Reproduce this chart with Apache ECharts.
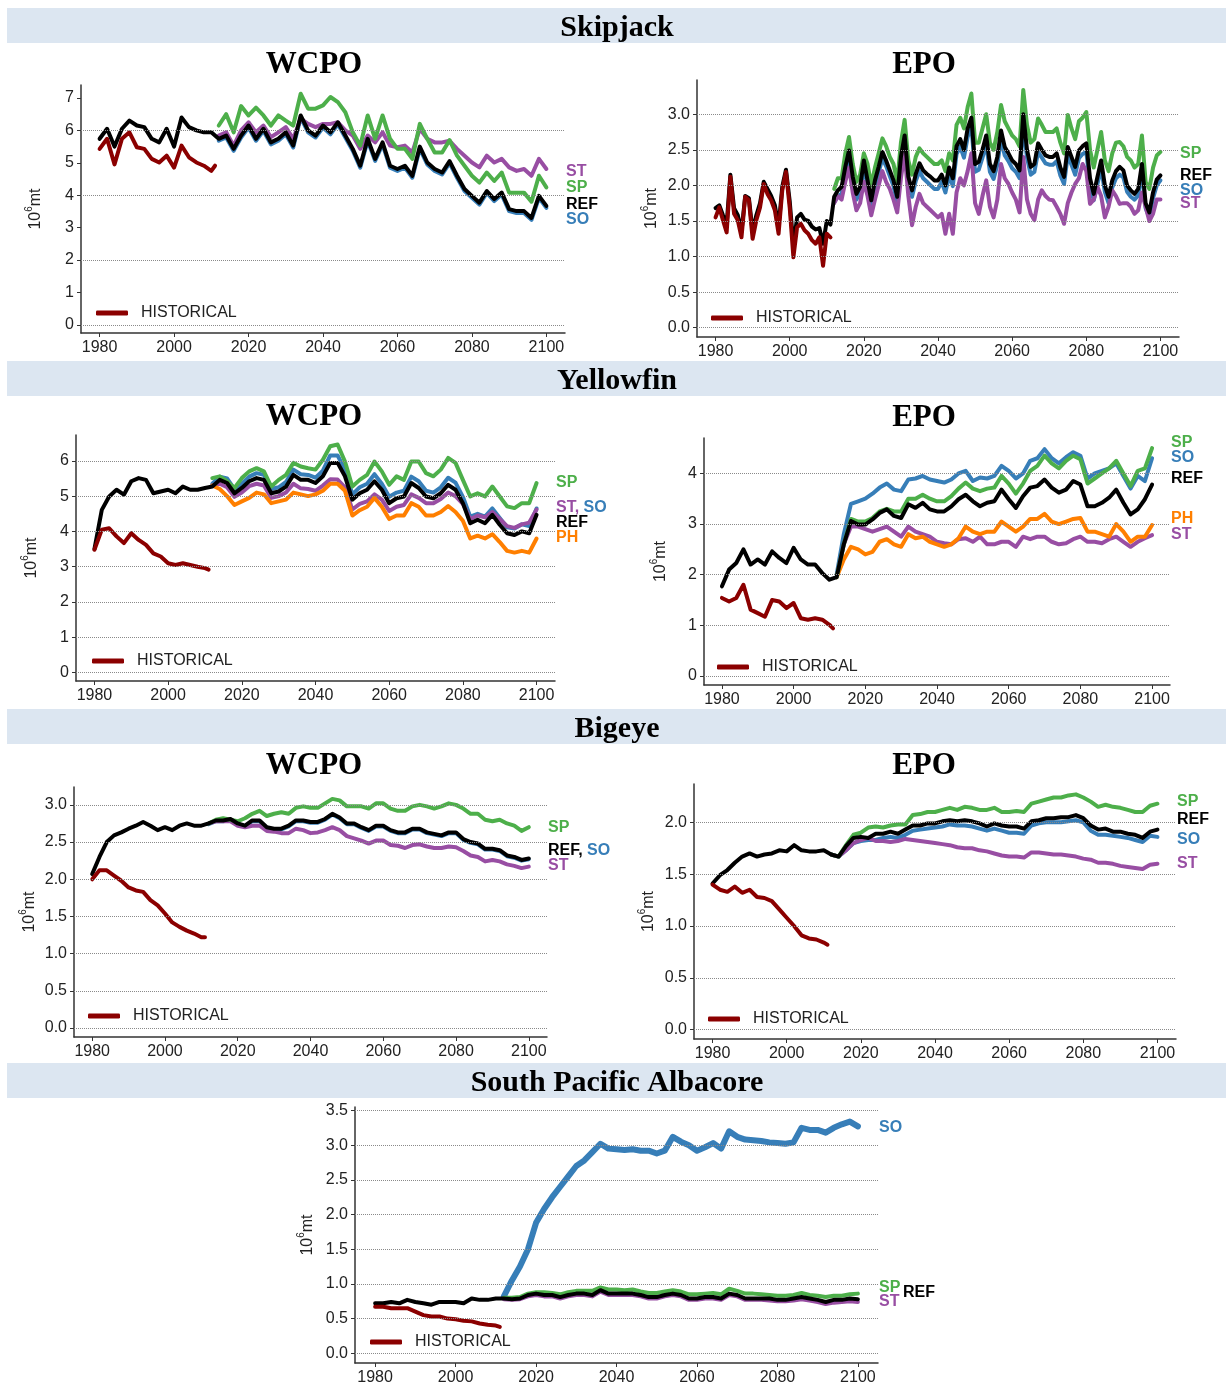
<!DOCTYPE html>
<html><head><meta charset="utf-8">
<script src="https://cdn.jsdelivr.net/npm/echarts@6.0.0/dist/echarts.min.js"></script>
<style>html,body{margin:0;padding:0;background:#fff}#c{width:1226px;height:1387px}</style>
</head><body><div id="c"></div>
<script>
// ---------- year axes ----------
const YRS2 = []; for (let y = 1980; y <= 2100; y += 2) YRS2.push(y);
const YRS2_HIST = YRS2.slice(0, 16).concat([2011]);
const YRS2_PROJ = YRS2.slice(16);
const YRS1 = []; for (let y = 1980; y <= 2100; y++) YRS1.push(y);
const YRS1_HIST = YRS1.slice(0, 32);
const YRS1_PROJ = YRS1.slice(32);
const X_TICKS = [1980, 2000, 2020, 2040, 2060, 2080, 2100];

// ---------- Skipjack WCPO ----------
const skjW_REF = [5.74,6.05,5.5,6.05,6.3,6.15,6.1,5.74,5.63,6.05,5.5,6.4,6.1,6.0,5.94,5.94,
  5.74,5.84,5.43,5.84,6.15,5.74,6.05,5.63,5.74,5.94,5.53,6.46,6.0,5.84,6.15,5.94,6.25,5.84,5.43,4.91,
  5.74,5.12,5.63,4.91,4.81,4.91,4.6,5.5,5.01,4.81,4.7,5.05,4.6,4.19,3.98,3.77,4.13,3.88,4.08,3.57,
  3.51,3.51,3.3,3.98,3.67];
const skjW_HIST = [5.43,5.74,4.95,5.74,5.94,5.48,5.43,5.12,5.01,5.22,4.85,5.53,5.17,5.01,4.91,4.75,4.91];
const skjW_SP = [6.15,6.5,5.94,6.75,6.46,6.7,6.46,6.15,6.46,6.3,6.15,7.13,6.67,6.67,6.77,7.03,6.87,6.56,
  5.94,5.53,6.46,5.74,6.46,5.74,5.43,5.43,5.12,6.2,5.74,5.32,5.32,5.7,5.22,4.91,4.6,4.39,4.7,4.44,4.7,
  4.08,4.08,4.08,3.8,4.6,4.24];
const skjW_ST = [5.84,5.94,5.53,6.0,6.25,5.94,6.15,5.79,5.94,6.1,5.74,6.36,6.2,6.1,6.2,6.2,6.25,6.0,
  5.84,5.43,5.84,5.63,5.94,5.53,5.48,5.53,5.32,6.05,5.74,5.63,5.63,5.68,5.43,5.22,5.01,4.86,5.22,5.01,
  5.12,4.86,4.75,4.81,4.6,5.12,4.81];
const skjW_SO = [5.68,5.78,5.37,5.78,6.09,5.68,5.99,5.57,5.68,5.88,5.47,6.4,5.94,5.78,6.09,5.88,6.19,5.78,
  5.37,4.85,5.68,5.06,5.57,4.85,4.75,4.85,4.54,5.44,4.95,4.75,4.64,4.99,4.54,4.13,3.92,3.71,4.07,3.82,
  4.02,3.51,3.45,3.45,3.24,3.92,3.61];

// ---------- Skipjack EPO (yearly) ----------
const skjE_REF = [1.68,1.72,1.58,1.45,2.15,1.68,1.58,1.35,1.85,1.82,1.35,1.58,1.75,2.05,1.95,1.85,1.72,1.42,
  1.98,2.22,1.78,1.15,1.55,1.6,1.52,1.5,1.42,1.38,1.4,1.18,1.5,1.45,
  1.84,1.93,1.98,2.26,2.49,2.12,1.88,1.98,2.35,2.07,1.79,2.07,2.26,2.47,2.35,2.21,2.07,1.84,2.4,2.70,2.12,
  1.93,2.16,2.31,2.21,2.16,2.12,2.07,2.07,
  2.15,2.0,2.25,2.1,2.55,2.65,2.5,2.8,2.95,2.3,2.33,2.5,2.7,2.3,2.2,2.4,2.77,2.54,2.45,2.35,2.3,2.21,3.0,
  2.5,2.26,2.3,2.59,2.5,2.42,2.4,2.4,2.45,2.25,2.12,2.54,2.4,2.26,2.49,2.55,2.59,2.1,1.88,2.12,2.35,2.0,
  1.84,2.07,2.2,2.26,2.21,2.0,1.93,1.88,1.95,2.3,1.75,1.62,1.9,2.08,2.14];
const skjE_HIST = [1.55,1.69,1.51,1.34,2.12,1.60,1.51,1.27,1.84,1.79,1.25,1.51,1.69,2.02,1.88,1.79,1.65,
  1.32,1.93,2.19,1.69,0.99,1.41,1.46,1.37,1.32,1.23,1.18,1.27,0.87,1.32,1.27];
const skjE_SP = [1.95,2.1,2.1,2.45,2.68,2.3,2.05,2.15,2.45,2.3,2.0,2.25,2.45,2.66,2.55,2.4,2.3,2.05,2.6,
  2.92,2.35,2.15,2.4,2.52,2.45,2.4,2.35,2.3,2.3,
  2.35,2.2,2.45,2.35,2.85,2.95,2.8,3.1,3.29,2.6,2.6,2.8,3.0,2.6,2.5,2.75,3.13,2.9,2.8,2.7,2.65,2.55,3.34,
  2.85,2.6,2.65,2.94,2.85,2.75,2.75,2.75,2.8,2.6,2.45,2.99,2.8,2.65,2.9,2.95,3.03,2.5,2.25,2.5,2.75,2.35,
  2.2,2.45,2.6,2.61,2.55,2.4,2.35,2.25,2.3,2.7,2.05,1.95,2.25,2.42,2.47];
const skjE_ST = [1.75,1.85,1.8,2.05,2.25,1.9,1.65,1.75,2.05,1.85,1.58,1.8,2.0,2.2,2.05,1.95,1.8,1.62,2.1,
  2.45,1.85,1.44,1.7,1.88,1.75,1.7,1.65,1.6,1.55,
  1.6,1.32,1.6,1.32,1.9,2.1,2.0,2.2,2.45,1.75,1.6,1.85,2.07,1.7,1.55,1.8,2.3,2.1,2.02,1.9,1.8,1.62,2.4,
  1.8,1.6,1.51,1.8,1.93,1.85,1.8,1.79,1.7,1.6,1.46,1.75,1.9,2.02,2.1,2.3,2.2,1.74,1.8,1.98,1.85,1.55,
  1.7,1.93,1.85,1.74,1.75,1.75,1.7,1.6,1.65,1.9,1.7,1.5,1.6,1.8,1.8];
const skjE_SO = [1.76,1.85,1.88,2.18,2.4,2.04,1.8,1.9,2.27,1.99,1.71,1.99,2.18,2.38,2.27,2.13,1.99,1.76,
  2.32,2.6,2.03,1.84,2.06,2.2,2.1,2.05,2.0,1.95,1.95,
  2.05,1.9,2.14,1.99,2.44,2.54,2.39,2.68,2.83,2.19,2.22,2.39,2.58,2.19,2.09,2.29,2.65,2.42,2.34,2.24,
  2.19,2.1,2.87,2.39,2.15,2.19,2.47,2.39,2.31,2.29,2.29,2.34,2.14,2.02,2.42,2.29,2.15,2.38,2.44,2.47,
  2.0,1.79,2.02,2.24,1.91,1.75,1.97,2.1,2.15,2.11,1.91,1.84,1.8,1.86,2.2,1.68,1.55,1.82,2.0,2.07];

// ---------- Yellowfin WCPO ----------
const yfW_REF = [3.5,4.61,4.99,5.18,5.04,5.42,5.51,5.46,5.08,5.13,5.18,5.08,5.27,5.18,5.18,5.23,
  5.27,5.46,5.37,5.08,5.23,5.42,5.51,5.46,5.08,5.13,5.27,5.6,5.46,5.46,5.37,5.56,5.94,5.94,5.56,4.9,
  5.08,5.18,5.42,5.18,4.8,4.94,4.99,5.37,5.23,4.99,4.94,5.08,5.32,5.18,4.8,4.23,4.33,4.23,4.47,4.19,
  3.95,3.9,4.0,3.95,4.47];
const yfW_HIST = [3.48,4.05,4.09,3.86,3.67,3.95,3.76,3.62,3.38,3.29,3.1,3.05,3.1,3.05,3.0,2.96,2.92];
const yfW_SP = [5.51,5.56,5.42,5.23,5.51,5.7,5.79,5.7,5.27,5.46,5.6,5.94,5.84,5.79,5.75,6.03,6.41,6.46,
  5.98,5.27,5.46,5.6,5.98,5.7,5.32,5.56,5.46,5.98,5.98,5.65,5.56,5.75,6.08,5.94,5.46,4.99,5.08,4.99,
  5.27,4.99,4.71,4.66,4.8,4.8,5.37];
const yfW_SO = [5.35,5.55,5.5,5.2,5.35,5.55,5.65,5.6,5.2,5.25,5.4,5.75,5.62,5.6,5.52,5.72,6.15,6.15,5.75,
  5.05,5.25,5.35,5.62,5.35,4.98,5.1,5.15,5.55,5.42,5.15,5.1,5.25,5.52,5.38,4.98,4.42,4.5,4.42,4.65,
  4.38,4.12,4.08,4.2,4.15,4.65];
const yfW_ST = [5.3,5.35,5.25,4.98,5.1,5.28,5.35,5.3,4.95,5.0,5.1,5.35,5.22,5.2,5.15,5.3,5.48,5.47,5.25,
  4.62,4.78,4.85,5.05,4.9,4.58,4.7,4.75,5.05,4.95,4.8,4.8,4.92,5.1,5.0,4.78,4.35,4.45,4.4,4.55,4.35,
  4.15,4.1,4.2,4.25,4.62];
const yfW_PH = [5.3,5.2,5.0,4.75,4.85,4.95,5.1,5.05,4.8,4.85,4.9,5.1,5.05,5.0,5.05,5.15,5.35,5.35,5.15,
  4.45,4.6,4.7,4.95,4.7,4.35,4.45,4.45,4.8,4.7,4.45,4.45,4.55,4.72,4.55,4.3,3.8,3.88,3.8,3.92,3.7,
  3.45,3.4,3.45,3.4,3.8];

// ---------- Yellowfin EPO ----------
const yfE_REF = [1.77,2.1,2.23,2.5,2.2,2.3,2.2,2.46,2.33,2.23,2.53,2.3,2.2,2.2,2.03,1.9,
  1.95,2.6,3.06,2.99,2.99,3.09,3.22,3.29,3.16,3.12,3.39,3.32,3.42,3.29,3.25,3.25,3.35,3.49,3.58,3.45,
  3.35,3.42,3.45,3.68,3.49,3.32,3.55,3.72,3.75,3.88,3.72,3.62,3.68,3.85,3.78,3.35,3.35,3.42,3.52,3.68,
  3.42,3.19,3.29,3.49,3.78];
const yfE_HIST = [1.54,1.47,1.54,1.8,1.31,1.24,1.17,1.5,1.47,1.34,1.44,1.14,1.11,1.14,1.11,1.01,0.94];
const yfE_SO = [2.0,2.8,3.4,3.45,3.5,3.6,3.72,3.8,3.68,3.65,3.88,3.9,3.95,3.88,3.85,3.82,3.88,4.0,4.05,
  3.85,3.92,3.9,3.95,4.15,4.05,3.9,4.0,4.25,4.3,4.48,4.3,4.2,4.32,4.42,4.35,3.9,4.0,4.05,4.1,4.2,
  3.95,3.7,3.95,3.85,4.3];
const yfE_SP = [1.95,2.6,3.1,3.05,3.05,3.12,3.25,3.3,3.25,3.25,3.5,3.5,3.58,3.5,3.45,3.45,3.55,3.7,3.82,
  3.7,3.65,3.7,3.72,3.95,3.8,3.6,3.8,4.05,4.15,4.35,4.2,4.1,4.25,4.35,4.28,3.8,3.9,4.0,4.1,4.25,
  4.0,3.75,4.05,4.1,4.5];
const yfE_PH = [1.95,2.3,2.55,2.5,2.4,2.45,2.65,2.7,2.6,2.55,2.8,2.72,2.75,2.65,2.6,2.55,2.6,2.72,2.95,
  2.85,2.8,2.85,2.85,3.05,2.95,2.85,2.95,3.1,3.1,3.2,3.05,3.0,3.05,3.1,3.12,2.85,2.85,2.8,2.75,3.0,
  2.85,2.65,2.75,2.75,2.98];
const yfE_ST = [1.95,2.6,2.95,2.95,2.9,2.85,2.9,2.95,2.85,2.75,2.95,2.85,2.8,2.75,2.65,2.62,2.6,2.7,2.72,
  2.65,2.75,2.6,2.6,2.65,2.65,2.55,2.75,2.7,2.75,2.75,2.65,2.6,2.62,2.7,2.75,2.65,2.65,2.62,2.7,2.75,
  2.65,2.55,2.65,2.72,2.78];

// ---------- Bigeye WCPO ----------
const beW_REF = [2.07,2.3,2.5,2.59,2.63,2.68,2.72,2.77,2.72,2.66,2.7,2.66,2.72,2.75,2.72,2.72,
  2.75,2.79,2.79,2.81,2.75,2.72,2.79,2.79,2.7,2.68,2.68,2.72,2.79,2.79,2.77,2.77,2.81,2.88,2.83,2.75,
  2.75,2.7,2.66,2.72,2.72,2.66,2.63,2.63,2.68,2.68,2.63,2.61,2.59,2.63,2.63,2.54,2.5,2.48,2.41,2.41,
  2.39,2.32,2.3,2.26,2.28];
const beW_HIST = [2.0,2.12,2.12,2.05,1.98,1.89,1.85,1.83,1.72,1.65,1.54,1.42,1.36,1.31,1.27,1.22,1.22];
const beW_SP = [2.75,2.8,2.82,2.8,2.78,2.82,2.88,2.92,2.85,2.88,2.9,2.88,2.96,2.98,2.96,2.96,3.02,3.08,
  3.06,2.98,2.98,2.98,2.95,3.02,3.02,2.95,2.92,2.92,2.98,3.0,2.98,2.95,2.98,3.02,3.0,2.95,2.88,2.88,
  2.8,2.78,2.8,2.75,2.72,2.65,2.7];
const beW_ST = [2.75,2.78,2.78,2.78,2.72,2.7,2.72,2.72,2.65,2.64,2.62,2.62,2.68,2.66,2.62,2.63,2.66,2.7,
  2.66,2.58,2.55,2.52,2.48,2.52,2.52,2.46,2.45,2.42,2.46,2.47,2.44,2.42,2.42,2.44,2.43,2.38,2.32,2.3,
  2.24,2.26,2.24,2.2,2.18,2.15,2.17];
const beW_SO = [2.74,2.78,2.78,2.8,2.74,2.71,2.78,2.78,2.69,2.67,2.67,2.71,2.78,2.78,2.76,2.76,2.8,2.87,
  2.82,2.74,2.74,2.69,2.65,2.71,2.71,2.65,2.62,2.62,2.67,2.67,2.62,2.6,2.58,2.62,2.62,2.53,2.49,2.47,
  2.4,2.4,2.38,2.31,2.29,2.25,2.27];

// ---------- Bigeye EPO ----------
const beE_REF = [1.41,1.49,1.54,1.61,1.67,1.7,1.67,1.69,1.7,1.73,1.72,1.78,1.73,1.72,1.72,1.73,
  1.69,1.67,1.77,1.85,1.86,1.85,1.89,1.89,1.91,1.89,1.93,1.97,1.97,1.99,1.99,2.01,2.02,2.01,2.02,2.01,
  1.99,1.96,1.99,1.97,1.96,1.96,1.94,2.01,2.02,2.04,2.04,2.05,2.05,2.07,2.04,1.97,1.93,1.94,1.91,1.91,
  1.89,1.88,1.85,1.91,1.93];
const beE_HIST = [1.4,1.35,1.33,1.38,1.32,1.35,1.28,1.27,1.24,1.16,1.08,1.0,0.91,0.88,0.87,0.84,0.82];
const beE_SP = [1.69,1.67,1.78,1.88,1.9,1.95,1.96,1.95,1.97,1.98,1.98,2.07,2.08,2.1,2.1,2.12,2.14,2.12,
  2.15,2.14,2.12,2.12,2.14,2.1,2.1,2.11,2.1,2.18,2.2,2.22,2.24,2.24,2.26,2.27,2.24,2.2,2.15,2.17,2.15,
  2.14,2.12,2.1,2.1,2.16,2.18];
const beE_SO = [1.69,1.67,1.73,1.8,1.82,1.83,1.83,1.85,1.86,1.85,1.88,1.92,1.93,1.94,1.95,1.96,1.98,1.97,
  1.97,1.96,1.94,1.92,1.94,1.92,1.9,1.9,1.89,1.97,1.99,2.0,2.0,2.0,2.01,2.02,2.0,1.92,1.88,1.88,1.87,
  1.86,1.85,1.83,1.81,1.87,1.86];
const beE_ST = [1.69,1.67,1.73,1.8,1.83,1.85,1.82,1.82,1.81,1.82,1.84,1.83,1.82,1.81,1.8,1.79,1.78,1.76,
  1.75,1.75,1.73,1.72,1.7,1.68,1.67,1.67,1.66,1.71,1.71,1.7,1.69,1.69,1.68,1.67,1.65,1.64,1.61,1.61,
  1.6,1.58,1.57,1.56,1.55,1.59,1.6];

// ---------- South Pacific Albacore ----------
const alb_REF = [0.72,0.72,0.74,0.72,0.77,0.74,0.72,0.7,0.74,0.74,0.74,0.72,0.79,0.77,0.77,0.79,
  0.79,0.78,0.79,0.84,0.86,0.84,0.84,0.81,0.84,0.86,0.86,0.84,0.91,0.86,0.86,0.86,0.86,0.84,0.81,0.81,
  0.84,0.86,0.84,0.79,0.79,0.81,0.81,0.79,0.86,0.84,0.79,0.79,0.79,0.79,0.77,0.77,0.79,0.81,0.79,0.77,
  0.74,0.77,0.77,0.79,0.78];
const alb_HIST = [0.67,0.67,0.65,0.65,0.65,0.6,0.55,0.53,0.53,0.5,0.49,0.47,0.46,0.43,0.41,0.4,0.38];
const alb_SO = [0.82,1.05,1.25,1.5,1.88,2.08,2.25,2.4,2.55,2.7,2.78,2.9,3.02,2.95,2.94,2.93,2.94,2.92,
  2.92,2.88,2.92,3.12,3.05,3.0,2.92,2.97,3.03,2.95,3.2,3.12,3.08,3.07,3.06,3.04,3.03,3.02,3.04,3.25,
  3.22,3.22,3.18,3.25,3.3,3.34,3.27];
const alb_SP = [0.8,0.8,0.81,0.86,0.88,0.88,0.87,0.85,0.88,0.9,0.9,0.9,0.95,0.92,0.92,0.91,0.92,0.89,
  0.87,0.87,0.89,0.91,0.89,0.85,0.85,0.86,0.87,0.85,0.93,0.9,0.86,0.86,0.85,0.84,0.83,0.83,0.84,0.87,
  0.84,0.83,0.81,0.83,0.83,0.85,0.86];
const alb_ST = [0.78,0.77,0.78,0.82,0.84,0.82,0.82,0.79,0.82,0.84,0.84,0.82,0.89,0.84,0.84,0.84,0.84,0.82,
  0.79,0.79,0.82,0.84,0.82,0.77,0.77,0.79,0.79,0.77,0.84,0.82,0.77,0.77,0.77,0.76,0.75,0.75,0.76,0.78,
  0.76,0.74,0.71,0.73,0.74,0.75,0.74];

// ---------- styling / layout ----------
const COL = {REF:'#000000', SP:'#4daf4a', SO:'#377eb8', ST:'#984ea3', PH:'#ff7f00', HIST:'#8b0000'};
const SANS = '"Liberation Sans", Arial, sans-serif';
const SERIF = '"Liberation Serif", "Times New Roman", serif';
const BAND = '#dce6f1';

const PANELS = [
  {l:81, t:85, r:565, b:333, ymin:-0.25, ymax:7.4, yt:[0,1,2,3,4,5,6,7], gl:[0,2,4,6], dec:0, gap:37, leg:[96,313],
   series:[['SO',YRS2_PROJ,skjW_SO],['ST',YRS2_PROJ,skjW_ST],['SP',YRS2_PROJ,skjW_SP],['REF',YRS2,skjW_REF],['HIST',YRS2_HIST,skjW_HIST]],
   labels:[[['ST'],4.74],[['SP'],4.22],[['REF'],3.72],[['SO'],3.26]]},
  {l:697, t:80, r:1179, b:337, ymin:-0.13, ymax:3.48, yt:[0,0.5,1,1.5,2,2.5,3], gl:[0,0.5,1,1.5,2,2.5,3], dec:1, gap:37, leg:[711,318],
   series:[['SO',YRS1_PROJ,skjE_SO],['ST',YRS1_PROJ,skjE_ST],['SP',YRS1_PROJ,skjE_SP],['REF',YRS1,skjE_REF],['HIST',YRS1_HIST,skjE_HIST]],
   labels:[[['SP'],2.45],[['REF'],2.14],[['SO'],1.93],[['ST'],1.75]]},
  {l:76, t:435, r:555, b:681, ymin:-0.235, ymax:6.73, yt:[0,1,2,3,4,5,6], gl:[0,1,2,3,4,5,6], dec:0, gap:36, leg:[92,661],
   series:[['SO',YRS2_PROJ,yfW_SO],['ST',YRS2_PROJ,yfW_ST],['PH',YRS2_PROJ,yfW_PH],['SP',YRS2_PROJ,yfW_SP],['REF',YRS2,yfW_REF],['HIST',YRS2_HIST,yfW_HIST]],
   labels:[[['SP'],5.37],[['ST','SO'],4.67],[['REF'],4.24],[['PH'],3.82]]},
  {l:704, t:438, r:1170, b:685, ymin:-0.18, ymax:4.7, yt:[0,1,2,3,4], gl:[0,1,2,3,4], dec:0, gap:35, leg:[717,667],
   series:[['SO',YRS2_PROJ,yfE_SO],['ST',YRS2_PROJ,yfE_ST],['PH',YRS2_PROJ,yfE_PH],['SP',YRS2_PROJ,yfE_SP],['REF',YRS2,yfE_REF],['HIST',YRS2_HIST,yfE_HIST]],
   labels:[[['SP'],4.61],[['SO'],4.32],[['REF'],3.9],[['PH'],3.11],[['ST'],2.79]]},
  {l:74, t:787, r:547, b:1037, ymin:-0.12, ymax:3.24, yt:[0,0.5,1,1.5,2,2.5,3], gl:[0,0.5,1,1.5,2,2.5,3], dec:1, gap:36, leg:[88,1016],
   series:[['SO',YRS2_PROJ,beW_SO],['ST',YRS2_PROJ,beW_ST],['SP',YRS2_PROJ,beW_SP],['REF',YRS2,beW_REF],['HIST',YRS2_HIST,beW_HIST]],
   labels:[[['SP'],2.69],[['REF','SO'],2.39],[['ST'],2.18]]},
  {l:694, t:784, r:1176, b:1039, ymin:-0.09, ymax:2.37, yt:[0,0.5,1,1.5,2], gl:[0,0.5,1,1.5,2], dec:1, gap:37, leg:[708,1019],
   series:[['SO',YRS2_PROJ,beE_SO],['ST',YRS2_PROJ,beE_ST],['SP',YRS2_PROJ,beE_SP],['REF',YRS2,beE_REF],['HIST',YRS2_HIST,beE_HIST]],
   labels:[[['SP'],2.2],[['REF'],2.03],[['SO'],1.83],[['ST'],1.6]]},
  {l:355, t:1107, r:878, b:1363, ymin:-0.14, ymax:3.55, yt:[0,0.5,1,1.5,2,2.5,3,3.5], gl:[0,0.5,1,1.5,2,2.5,3,3.5], dec:1, gap:39, leg:[370,1342],
   series:[['SO',YRS2_PROJ,alb_SO,6],['ST',YRS2_PROJ,alb_ST],['SP',YRS2_PROJ,alb_SP],['REF',YRS2,alb_REF],['HIST',YRS2_HIST,alb_HIST]],
   labels:[[['SO'],3.26],[['SP'],0.95],[['REF'],0.88,24],[['ST'],0.74]]}
];

const BANDS = [['Skipjack',8],['Yellowfin',361],['Bigeye',709],['South Pacific Albacore',1063]];
const SUBTITLES = [['WCPO',314,65],['EPO',924,65],['WCPO',314,417],['EPO',924,418],['WCPO',314,766],['EPO',924,766]];

const chart = echarts.init(document.getElementById('c'), null, {renderer:'canvas'});

const grids = [], xAxes = [], yAxes = [], series = [], legends = [];
PANELS.forEach((p, i) => {
  grids.push({left:p.l, top:p.t, width:p.r - p.l, height:p.b - p.t, containLabel:false, outerBoundsMode:'none'});
  xAxes.push({
    gridIndex:i, type:'value', min:1975, max:2105,
    axisLine:{show:true, onZero:false, lineStyle:{color:'#333', width:1.5}},
    axisTick:{show:true, length:4, customValues:X_TICKS, lineStyle:{color:'#333', width:1}},
    axisLabel:{show:true, customValues:X_TICKS, formatter:v => String(v), fontSize:16, color:'#222', fontFamily:SANS, margin:7},
    splitLine:{show:false}
  });
  yAxes.push({
    gridIndex:i, type:'value', min:p.ymin, max:p.ymax,
    axisLine:{show:true, onZero:false, lineStyle:{color:'#333', width:1.5}},
    axisTick:{show:true, length:4, customValues:p.yt, lineStyle:{color:'#333', width:1}},
    axisLabel:{show:true, customValues:p.yt, formatter:v => Number(v).toFixed(p.dec), fontSize:16, color:'#222', fontFamily:SANS, margin:7},
    splitLine:{show:false},
    name:'{n|10}{s|6}{n|mt}', nameLocation:'middle', nameRotate:90, nameGap:p.gap,
    nameTextStyle:{fontSize:16, color:'#222', fontFamily:SANS,
      rich:{n:{fontSize:16, fontFamily:SANS, color:'#222', lineHeight:20, verticalAlign:'bottom'},
            s:{fontSize:10, fontFamily:SANS, color:'#222', lineHeight:8, verticalAlign:'top'}}}
  });
  // dotted horizontal guide lines
  series.push({
    type:'line', name:'grid'+i, xAxisIndex:i, yAxisIndex:i, data:[], silent:true, z:1,
    markLine:{silent:true, symbol:['none','none'], animation:false, label:{show:false},
      lineStyle:{type:'dotted', color:'#8a8a8a', width:1}, emphasis:{disabled:true},
      data:p.gl.map(v => ({yAxis:v}))}
  });
  p.series.forEach(([key, yrs, vals, w]) => {
    series.push({
      type:'line', name: key === 'HIST' ? 'HISTORICAL' : key, xAxisIndex:i, yAxisIndex:i,
      data: vals.map((v, k) => [yrs[k], v]),
      symbol:'none', showSymbol:false, silent:true, z:2, animation:false,
      color:COL[key], itemStyle:{color:COL[key]},
      lineStyle:{color:COL[key], width: w || 4, join:'round', cap:'round'},
      emphasis:{disabled:true}
    });
  });
  legends.push({
    data:['HISTORICAL'], left:p.leg[0], top:p.leg[1] - 9, padding:0, orient:'horizontal',
    icon:'roundRect', itemWidth:32, itemHeight:5, selectedMode:false,
    textStyle:{fontSize:16, color:'#222', fontFamily:SANS, lineHeight:18, padding:[0,0,0,8]}
  });
});

function baseGraphics() {
  const g = [];
  BANDS.forEach(([t, y]) => {
    g.push({type:'rect', silent:true, z:0, shape:{x:7, y:y, width:1219, height:35}, style:{fill:BAND}});
    g.push({type:'text', silent:true, z:1, x:617, y:y + 20,
      style:{text:t, font:'bold 30px ' + SERIF, fill:'#000', align:'center', verticalAlign:'middle', textAlign:'center', textVerticalAlign:'middle'}});
  });
  SUBTITLES.forEach(([t, x, y]) => {
    g.push({type:'text', silent:true, z:1, x:x, y:y,
      style:{text:t, font:'bold 31px ' + SERIF, fill:'#000', align:'center', verticalAlign:'middle', textAlign:'center', textVerticalAlign:'middle'}});
  });
  return g;
}

chart.setOption({
  backgroundColor:'#ffffff', animation:false,
  textStyle:{fontFamily:SANS},
  grid:grids, xAxis:xAxes, yAxis:yAxes, series:series, legend:legends,
  graphic:baseGraphics()
});

// scenario labels at the right edge of each panel, placed through the panel's own scales
const rich = {};
Object.keys(COL).forEach(k => { rich[k] = {fill:COL[k], font:'bold 16px ' + SANS}; });
const g2 = baseGraphics();
PANELS.forEach((p, i) => {
  p.labels.forEach(([keys, v, dx]) => {
    const pt = chart.convertToPixel({gridIndex:i}, [2105, v]);
    const txt = keys.map((k, j) => '{' + k + '|' + k + (j < keys.length - 1 ? ',' : '') + '}').join(' ');
    g2.push({type:'text', silent:true, z:2, x:pt[0] + 1 + (dx || 0), y:pt[1],
      style:{text:txt, rich:rich, font:'bold 16px ' + SANS, align:'left', verticalAlign:'middle', textAlign:'left', textVerticalAlign:'middle'}});
  });
});
chart.setOption({graphic:g2}, {replaceMerge:['graphic']});
</script></body></html>
